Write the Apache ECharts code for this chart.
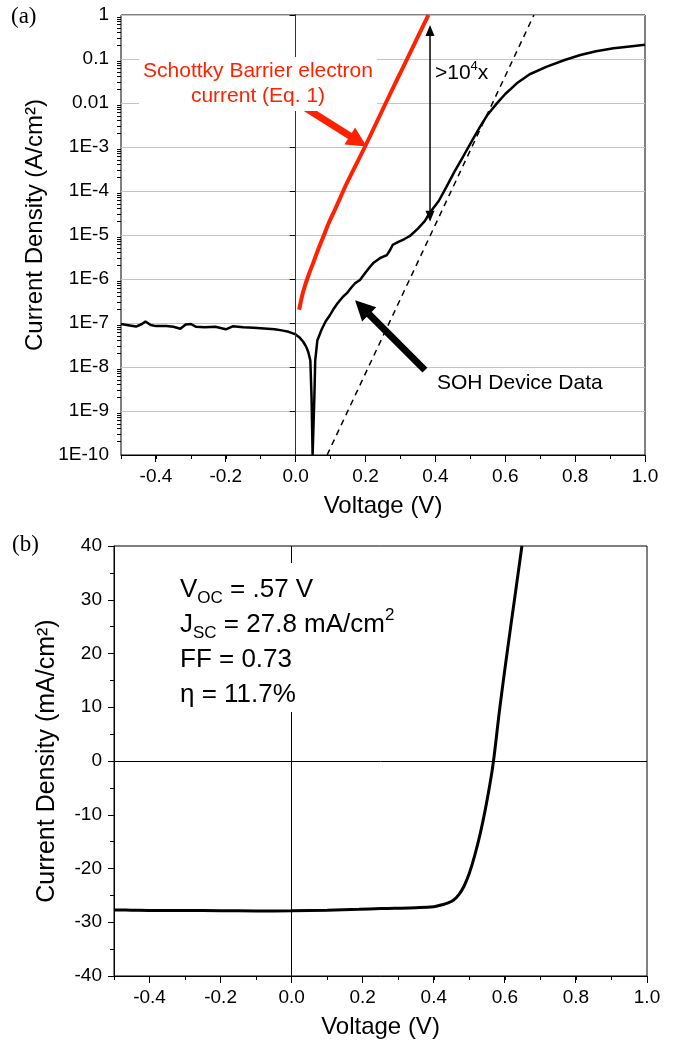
<!DOCTYPE html>
<html>
<head>
<meta charset="utf-8">
<script src="https://cdn.jsdelivr.net/npm/echarts@6/dist/echarts.min.js"></script>
<style>
  html, body { margin: 0; padding: 0; background: #fff; }
  #chart { width: 683px; height: 1042px; }
</style>
</head>
<body>
<div id="chart"></div>
<script>
var FONT = '"Liberation Sans", Arial, sans-serif';
var RED = '#ff2200';

// (a) dark J-V, log scale
var sohV = [-0.5, -0.475, -0.457, -0.44, -0.43, -0.415, -0.4, -0.37, -0.35, -0.33, -0.315, -0.3, -0.285, -0.26, -0.23, -0.2, -0.18, -0.15, -0.12, -0.09, -0.06, -0.04, -0.02, 0.0, 0.012, 0.021, 0.03, 0.036, 0.042, 0.0455, 0.0485, 0.0505, 0.0535, 0.056, 0.062, 0.074, 0.086, 0.098, 0.107, 0.12, 0.136, 0.146, 0.16, 0.17, 0.184, 0.2, 0.213, 0.222, 0.242, 0.261, 0.27, 0.278, 0.294, 0.31, 0.327, 0.35, 0.37, 0.384, 0.41, 0.432, 0.455, 0.479, 0.505, 0.528, 0.55, 0.576, 0.6, 0.633, 0.67, 0.719, 0.77, 0.815, 0.86, 0.91, 0.95, 1.0];
var sohJ = [9.5e-8, 8.8e-8, 8.3e-8, 9.5e-8, 1.08e-7, 9e-8, 8.5e-8, 8.5e-8, 8.2e-8, 7.4e-8, 9.2e-8, 9.5e-8, 8.2e-8, 8e-8, 8.2e-8, 7.2e-8, 8.4e-8, 8e-8, 7.8e-8, 7.5e-8, 7.2e-8, 6.8e-8, 6.3e-8, 5.5e-8, 4.6e-8, 3.8e-8, 2.9e-8, 2.2e-8, 1.4e-8, 2e-9, 1e-10, 1e-10, 2e-9, 1.4e-8, 4e-8, 7e-8, 1.1e-7, 1.5e-7, 2e-7, 2.8e-7, 4e-7, 4.7e-7, 6.5e-7, 8e-7, 9.5e-7, 1.4e-6, 1.9e-6, 2.3e-6, 3e-6, 3.5e-6, 4.5e-6, 6e-6, 7e-6, 8e-6, 9.5e-6, 1.4e-5, 2.1e-5, 3.2e-5, 6e-5, 1.26e-4, 2.8e-4, 6e-4, 1.4e-3, 2.9e-3, 5.5e-3, 9.8e-3, 1.6e-2, 2.8e-2, 4.5e-2, 6.7e-2, 9.5e-2, 0.123, 0.15, 0.175, 0.19, 0.21];
var schottkyV = [0.010, 0.018, 0.026, 0.038, 0.050, 0.065, 0.079, 0.095, 0.112, 0.146, 0.198, 0.258, 0.319, 0.38];
var schottkyJ = [2e-7, 4e-7, 6.8e-7, 1.3e-6, 2.3e-6, 4.8e-6, 9.1e-6, 1.9e-5, 3.7e-5, 1.48e-4, 1e-3, 1e-2, 0.1, 1];
var fitV = [0.09, 0.682];
var fitJ = [1e-10, 1];

// arrows: [x1, y1, x2, y2], the head sits on the second point
var arrowSchottky = [0.0296, 7.6e-3, 0.2033, 1.02e-3];
var arrowDevice = [0.370, 8.5e-9, 0.170, 3.3e-7];
var arrowRatio = [0.3846, 2e-5, 0.3846, 0.59];

// (b) illuminated J-V
var lightV = [-0.5, -0.45, -0.4, -0.3, -0.2, -0.1, 0, 0.1, 0.19, 0.25, 0.29, 0.35, 0.4, 0.42, 0.44, 0.455, 0.47, 0.485, 0.5, 0.515, 0.53, 0.545, 0.558, 0.568, 0.586, 0.606, 0.627, 0.648];
var lightJ = [-27.7, -27.75, -27.8, -27.8, -27.85, -27.9, -27.85, -27.75, -27.6, -27.45, -27.4, -27.3, -27.1, -26.8, -26.4, -25.9, -24.9, -23.3, -20.9, -17.6, -13.7, -9.0, -4.3, 0, 10, 20, 30, 40];

// tick positions
var xMajorTicks = [-0.4, -0.2, 0, 0.2, 0.4, 0.6, 0.8, 1.0];
var decadeExps = [-10, -9, -8, -7, -6, -5, -4, -3, -2, -1];
var minorMults = [2, 3, 4, 5, 6, 7, 8, 9];

function zip(a, b) {
  return a.map(function (v, i) { return [v, b[i]]; });
}

function logLabel(v) {
  var e = Math.round(Math.log10(v));
  if (e === 0) return '1';
  if (e === -1) return '0.1';
  if (e === -2) return '0.01';
  return '1E' + e;
}

function voltLabel(v) {
  if (Math.abs(v) < 1e-9) return '0.0';
  return Math.round(v * 10) % 2 === 0 ? v.toFixed(1) : '';
}

function xAxisOpt(gi) {
  return {
    type: 'value', gridIndex: gi, min: -0.5, max: 1.0, interval: 0.1,
    name: 'Voltage (V)', nameLocation: 'middle', nameGap: 39,
    nameTextStyle: { fontSize: 24, color: '#000', fontFamily: FONT },
    axisLine: { onZero: false, lineStyle: { color: '#000', width: 1 } },
    axisTick: { length: 4, lineStyle: { color: '#000' } },
    axisLabel: { fontSize: 19, color: '#000', fontFamily: FONT, margin: 12, formatter: voltLabel, showMaxLabel: true },
    splitLine: { show: false }
  };
}

// ticks the axes can't draw: log minor ticks and longer major x ticks
function tickSeries(xi, yi, items) {
  return {
    type: 'custom', xAxisIndex: xi, yAxisIndex: yi, silent: true, clip: false, z: 6,
    encode: { x: 0, y: 1 }, data: items, animation: false,
    renderItem: function (params, api) {
      var p = api.coord([api.value(0), api.value(1)]);
      if (api.value(2) === 1) {
        var x = Math.round(p[0] - 0.5) + 0.5;
        return { type: 'line', shape: { x1: x, y1: p[1], x2: x, y2: p[1] + 7 }, style: { stroke: '#000', lineWidth: 1 } };
      }
      var y = Math.round(p[1] - 0.5) + 0.5;
      return { type: 'line', shape: { x1: p[0] - 4, y1: y, x2: p[0], y2: y }, style: { stroke: '#000', lineWidth: 1 } };
    }
  };
}

function arrowSeries(xi, yi, pts, color, width, headLen, headHalf, both) {
  return {
    type: 'custom', xAxisIndex: xi, yAxisIndex: yi, silent: true, clip: false, z: 7,
    encode: { x: [0, 2], y: [1, 3] }, data: [pts], animation: false,
    renderItem: function (params, api) {
      var a = api.coord([api.value(0), api.value(1)]);
      var b = api.coord([api.value(2), api.value(3)]);
      var dx = b[0] - a[0], dy = b[1] - a[1];
      var len = Math.sqrt(dx * dx + dy * dy);
      var ux = dx / len, uy = dy / len, nx = -uy, ny = ux;
      function head(t, sx, sy) {
        return {
          type: 'polygon',
          shape: { points: [
            [t[0], t[1]],
            [t[0] - sx * headLen + nx * headHalf, t[1] - sy * headLen + ny * headHalf],
            [t[0] - sx * headLen - nx * headHalf, t[1] - sy * headLen - ny * headHalf]
          ] },
          style: { fill: color }
        };
      }
      var s = both ? [a[0] + ux * headLen * 0.8, a[1] + uy * headLen * 0.8] : a;
      var e = [b[0] - ux * headLen * 0.8, b[1] - uy * headLen * 0.8];
      var kids = [
        { type: 'line', shape: { x1: s[0], y1: s[1], x2: e[0], y2: e[1] }, style: { stroke: color, lineWidth: width } },
        head(b, ux, uy)
      ];
      if (both) kids.push(head(a, -ux, -uy));
      return { type: 'group', children: kids };
    }
  };
}

var topTicks = [];
decadeExps.forEach(function (d) {
  minorMults.forEach(function (k) { topTicks.push([-0.5, k * Math.pow(10, d), 0]); });
});
xMajorTicks.forEach(function (v) { topTicks.push([v, 1e-10, 1]); });
var bottomTicks = xMajorTicks.map(function (v) { return [v, -40, 1]; });

var chart = echarts.init(document.getElementById('chart'), null, { renderer: 'canvas' });

chart.setOption({
  animation: false,
  backgroundColor: '#fff',
  textStyle: { fontFamily: FONT },
  grid: [
    { left: 121, top: 15, width: 524, height: 440, show: true, borderColor: '#000', borderWidth: 1, backgroundColor: 'transparent' },
    { left: 114, top: 546, width: 533, height: 430, show: true, borderColor: '#000', borderWidth: 1, backgroundColor: 'transparent' }
  ],
  xAxis: [xAxisOpt(0), xAxisOpt(1)],
  yAxis: [
    {
      type: 'log', gridIndex: 0, logBase: 10, min: 1e-10, max: 1, interval: 1, splitNumber: 10,
      name: 'Current Density (A/cm²)', nameLocation: 'middle', nameGap: 63,
      nameTextStyle: { fontSize: 24, color: '#000', fontFamily: FONT, padding: [0, 0, 0, 20] },
      axisLine: { lineStyle: { color: '#000' } },
      axisTick: { length: 6, lineStyle: { color: '#000' } },
      axisLabel: { fontSize: 19, color: '#000', fontFamily: FONT, margin: 12, formatter: logLabel },
      splitLine: { show: true, lineStyle: { color: '#c4c4c4', width: 1 } }
    },
    {
      type: 'value', gridIndex: 1, min: -40, max: 40, interval: 10,
      name: 'Current Density (mA/cm²)', nameLocation: 'middle', nameGap: 54,
      nameTextStyle: { fontSize: 25, color: '#000', fontFamily: FONT },
      axisLine: { onZero: false, lineStyle: { color: '#000' } },
      axisTick: { length: 6, lineStyle: { color: '#000' } },
      minorTick: { show: true, splitNumber: 2, length: 4, lineStyle: { color: '#000' } },
      axisLabel: { fontSize: 19, color: '#000', fontFamily: FONT, margin: 12 },
      splitLine: { show: false }
    }
  ],
  series: [
    {
      name: 'SOH Device Data', type: 'line', xAxisIndex: 0, yAxisIndex: 0,
      data: zip(sohV, sohJ), showSymbol: false, smooth: false,
      lineStyle: { color: '#000', width: 2.5 }, z: 4,
      markLine: {
        silent: true, symbol: 'none', label: { show: false },
        lineStyle: { color: '#333', width: 1, type: 'solid' },
        data: [{ xAxis: 0 }]
      }
    },
    {
      name: 'Schottky', type: 'line', xAxisIndex: 0, yAxisIndex: 0,
      data: zip(schottkyV, schottkyJ), showSymbol: false, smooth: 0.3,
      lineStyle: { color: RED, width: 4 }, z: 5
    },
    {
      name: 'fit', type: 'line', xAxisIndex: 0, yAxisIndex: 0,
      data: zip(fitV, fitJ), showSymbol: false,
      lineStyle: { color: '#000', width: 1.5, type: [6, 5] }, z: 3
    },
    {
      name: 'Illuminated', type: 'line', xAxisIndex: 1, yAxisIndex: 1,
      data: zip(lightV, lightJ), showSymbol: false, smooth: 0.4,
      lineStyle: { color: '#000', width: 3 }, z: 4,
      markLine: {
        silent: true, symbol: 'none', label: { show: false },
        lineStyle: { color: '#000', width: 1, type: 'solid' },
        data: [{ xAxis: 0 }, { yAxis: 0 }]
      }
    },
    tickSeries(0, 0, topTicks),
    tickSeries(1, 1, bottomTicks),
    arrowSeries(0, 0, arrowSchottky, RED, 7, 20, 10, false),
    arrowSeries(0, 0, arrowDevice, '#000', 7, 20, 10, false),
    arrowSeries(0, 0, arrowRatio, '#000', 1.5, 11, 4.5, true)
  ],
  graphic: [
    { type: 'text', x: 11, y: 5, z: 100, style: { text: '(a)', fontFamily: '"Liberation Serif", serif', fontSize: 23, fill: '#000' } },
    { type: 'text', x: 12, y: 533, z: 100, style: { text: '(b)', fontFamily: '"Liberation Serif", serif', fontSize: 23, fill: '#000' } },
    {
      type: 'text', x: 258, y: 57, z: 100,
      style: {
        text: 'Schottky Barrier electron\ncurrent (Eq. 1)', align: 'center', verticalAlign: 'top',
        fontFamily: FONT, fontSize: 21, lineHeight: 25, fill: RED,
        backgroundColor: '#fff', padding: [2, 4, 2, 4]
      }
    },
    {
      type: 'text', x: 435, y: 60, z: 100,
      style: {
        text: '{m|>10}{p|4}{m|x}', fill: '#000',
        rich: {
          m: { fontFamily: FONT, fontSize: 21, lineHeight: 26, verticalAlign: 'middle', fill: '#000' },
          p: { fontFamily: FONT, fontSize: 13, lineHeight: 12, verticalAlign: 'top', fill: '#000' }
        }
      }
    },
    {
      type: 'text', x: 437, y: 383, z: 100,
      style: { text: 'SOH Device Data', verticalAlign: 'middle', fontFamily: FONT, fontSize: 21, fill: '#000' }
    },
    {
      type: 'text', x: 175, y: 563, z: 100,
      style: {
        text: '{m|V}{s|OC}{m| = .57 V}\n{m|J}{s|SC}{m| = 27.8 mA/cm}{p|2}\n{m|FF = 0.73}\n{m|η = 11.7%}',
        backgroundColor: '#fff', padding: [9, 5, 0, 5], fill: '#000',
        rich: {
          m: { fontFamily: FONT, fontSize: 26, lineHeight: 35, verticalAlign: 'middle', fill: '#000' },
          s: { fontFamily: FONT, fontSize: 17, lineHeight: 24, verticalAlign: 'bottom', fill: '#000' },
          p: { fontFamily: FONT, fontSize: 17, lineHeight: 14, verticalAlign: 'top', fill: '#000' }
        }
      }
    }
  ]
});
</script>
</body>
</html>
